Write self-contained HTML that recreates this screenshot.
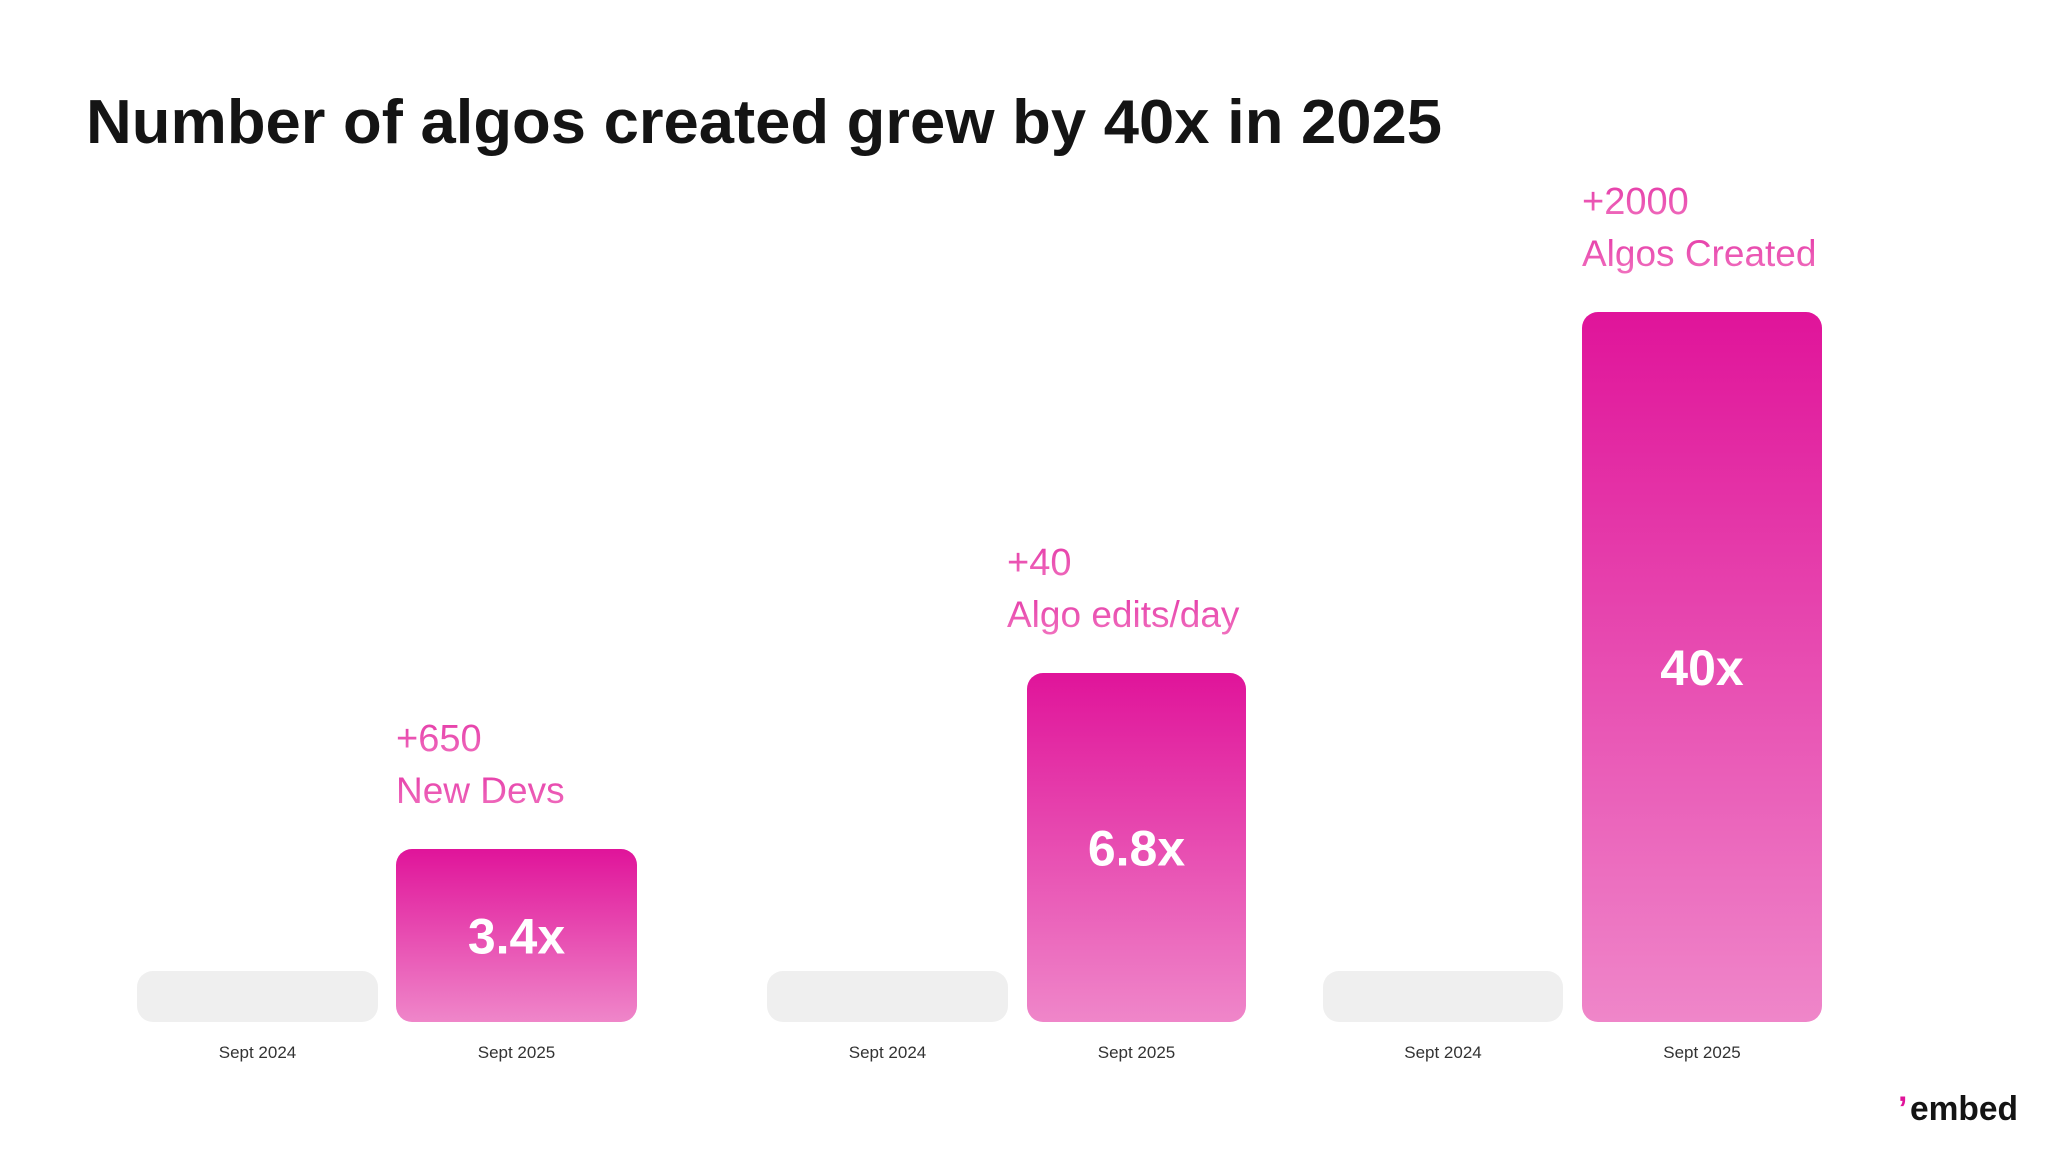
<!DOCTYPE html>
<html><head><meta charset="utf-8"><style>
html,body{margin:0;padding:0;background:#fff;}
svg{display:block;font-family:"Liberation Sans",sans-serif;}
</style></head><body>
<svg id="chart" width="2048" height="1152" viewBox="0 0 2048 1152" xmlns="http://www.w3.org/2000/svg">
<defs>
<linearGradient id="pg" x1="0" y1="0" x2="0" y2="1"><stop offset="0" stop-color="#e0149a"/><stop offset="1" stop-color="#ef86c9"/></linearGradient>
<linearGradient id="tg" x1="0" y1="0" x2="0" y2="1"><stop offset="0" stop-color="#e53aa8"/><stop offset="1" stop-color="#f070be"/></linearGradient>
</defs>
<text x="86" y="143" font-size="62" font-weight="bold" fill="#141414" textLength="1356" lengthAdjust="spacingAndGlyphs">Number of algos created grew by 40x in 2025</text>
<g id="bars"></g>
<g>
<text x="1898" y="1120" font-size="34" font-weight="bold" fill="#e0149a">’</text>
<text x="1910" y="1120" font-size="34" fill="#141414" font-weight="bold" textLength="108" lengthAdjust="spacingAndGlyphs">embed</text>
</g>
</svg>
<script>
const metrics = ["New Devs", "Algo edits/day", "Algos Created"];
const deltas = ["+650", "+40", "+2000"];
const multipliers = [3.4, 6.8, 40];
const baselineValue = 1;
const periodLabels = ["Sept 2024", "Sept 2025"];

const NS = "http://www.w3.org/2000/svg";
const baseY = 1022;
const groupX = [[137, 396], [767, 1027], [1323, 1582]];
const textX = [396, 1007, 1582];
const barW = [241, 219, 240];
const grayW = [241, 241, 240];
// stylized (non-linear) value -> pixel height scale
const dom = [1, 3.4, 6.8, 40], rng = [51, 173, 349, 710];
function hScale(v) {
  for (let i = 0; i < dom.length - 1; i++) {
    if (v <= dom[i + 1]) { const t = (v - dom[i]) / (dom[i + 1] - dom[i]); return rng[i] + t * (rng[i + 1] - rng[i]); }
  }
  return rng[rng.length - 1] * v / dom[dom.length - 1];
}
function mk(tag, attrs, parent) { const e = document.createElementNS(NS, tag); for (const k in attrs) e.setAttribute(k, attrs[k]); parent.appendChild(e); return e; }
const g = document.getElementById("bars");
metrics.forEach((m, i) => {
  const w = barW[i];
  const hb = hScale(baselineValue);
  const gray = mk("rect", { x: groupX[i][0], y: baseY - hb, width: grayW[i], height: hb, rx: 16, fill: "#efefef" }, g);
  
  
  const h = hScale(multipliers[i]);
  const top = baseY - h;
  const pink = mk("rect", { x: groupX[i][1], y: top, width: w, height: h, rx: 16, fill: "url(#pg)" }, g);
  
  
  const val = mk("text", { x: groupX[i][1] + w / 2, y: top + h / 2 + 18, "font-size": 50, "font-weight": "bold", fill: "#fff", "text-anchor": "middle" }, g);
  val.textContent = multipliers[i] + "x";
  
  
  const d = mk("text", { x: textX[i], y: top - 98, "font-size": 38, fill: "url(#tg)" }, g);
  d.textContent = deltas[i];
  
  
  const ml = mk("text", { x: textX[i], y: top - 46, "font-size": 37, fill: "url(#tg)" }, g);
  ml.textContent = m;
  
  
  periodLabels.forEach((p, j) => {
    const ww = j === 0 ? grayW[i] : w;
    const t = mk("text", { x: groupX[i][j] + ww / 2, y: 1058, "font-size": 17, fill: "#333", "text-anchor": "middle" }, g);
    t.textContent = p;
    
    
  });
});
</script>
</body></html>
